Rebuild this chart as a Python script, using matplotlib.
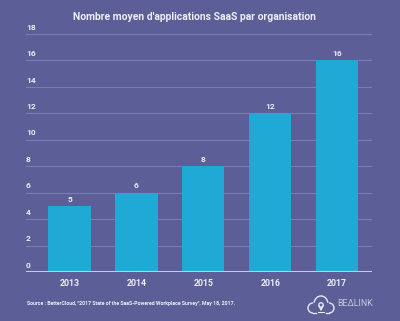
import numpy as np
import matplotlib.pyplot as plt
from matplotlib.patches import Arc, Circle

years = ['2013', '2014', '2015', '2016', '2017']
apps = [5, 6, 8, 12, 16]
yticks = [0, 2, 4, 6, 8, 10, 12, 14, 16, 18]

bg = '#5b5e97'
bar_col = '#1eaad5'
txt = '#eeeef5'

plt.rcParams['font.family'] = ['Roboto', 'DejaVu Sans']

fig = plt.figure(figsize=(4.0, 3.21), dpi=100, facecolor=bg)
ax = fig.add_axes([26 / 400, 1 - 272 / 321, 346 / 400, 238 / 321])
ax.set_facecolor(bg)

x = np.arange(len(years))
bars = ax.bar(x, apps, width=0.63, color=bar_col, zorder=2)
for xi, v in zip(x, apps):
    ax.text(xi, v + 0.25, str(v), ha='center', va='bottom', color=txt,
            fontsize=6, fontweight='bold')

ax.set_xlim(-0.65, 4.52)
ax.set_ylim(0, 18)

# gridlines with labels sitting just above them on the left
for t in yticks[1:]:
    ax.axhline(t, color='#7a7db0', lw=0.8, zorder=1)
for t in yticks:
    ax.text(-0.65, t + 0.25, str(t), ha='left', va='bottom', color=txt,
            fontsize=6, fontweight='bold')
ax.axhline(0, color='#c9cade', lw=1.5, zorder=3)

ax.set_xticks(x)
ax.set_xticklabels(years, color=txt, fontsize=6.3, fontweight='bold')
ax.tick_params(axis='x', length=0, pad=5)
ax.set_yticks([])
for s in ax.spines.values():
    s.set_visible(False)

fig.text(194 / 400, 1 - 17 / 321, "Nombre moyen d'applications SaaS par organisation",
         ha='center', va='center', color=txt, fontsize=7.5, fontweight='bold')
fig.text(27 / 400, 1 - 303 / 321,
         'Source : BetterCloud, "2017 State of the SaaS-Powered Workplace Survey", May 18, 2017.',
         ha='left', va='center', color=txt, fontsize=3.8, fontweight='bold')

# logo: cloud outline with a pin, then the brand name
lax = fig.add_axes([306 / 400, 1 - 316 / 321, 30 / 400, 24 / 321])
lax.set_xlim(0, 30)
lax.set_ylim(0, 24)
lax.axis('off')
lc = '#e8e8f0'
lax.add_patch(Arc((7, 8), 10, 10, theta1=90, theta2=270, color=lc, lw=1))
lax.add_patch(Arc((15, 12), 14, 16, theta1=10, theta2=170, color=lc, lw=1))
lax.add_patch(Arc((23, 8), 10, 10, theta1=-90, theta2=90, color=lc, lw=1))
lax.plot([7, 10], [3, 3], color=lc, lw=1)
lax.plot([20, 23], [3, 3], color=lc, lw=1)
lax.add_patch(Circle((15, 11), 2.2, fill=False, color=lc, lw=1))
lax.plot([13.1, 15, 16.9], [10, 6, 10], color=lc, lw=1)
lax.plot([12, 18], [4, 4], color=lc, lw=0.8)
fig.text(337 / 400, 1 - 303 / 321, 'BEΔLINK', ha='left', va='center',
         color='#c9cade', fontsize=6.3)

fig.savefig('out.png', dpi=100, facecolor=bg)
